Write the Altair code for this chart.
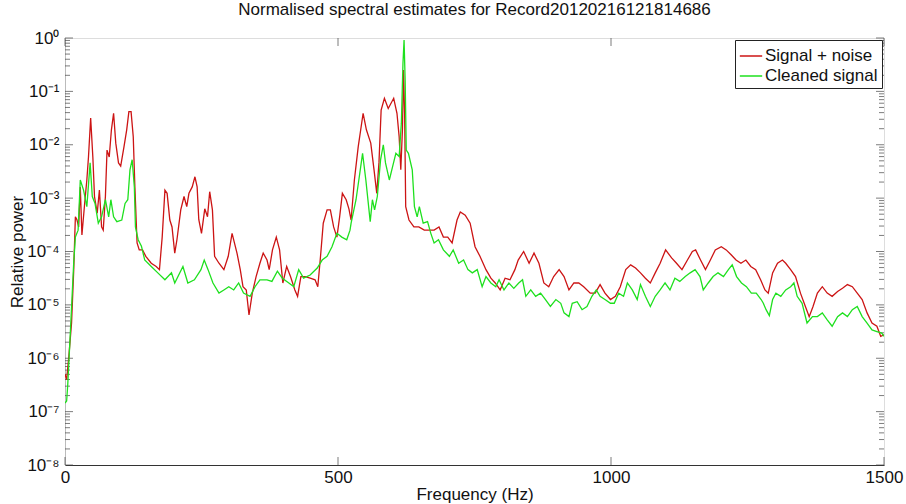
import altair as alt
import pandas as pd

FONT = "Liberation Sans"
TITLE = "Normalised spectral estimates for Record20120216121814686"
series_names = ["Signal + noise", "Cleaned signal"]
series_colors = ["#cc1414", "#1ee01e"]

# Signal + noise: frequency (Hz) and log10(relative power)
red_freq = [0, 3, 7, 12, 16, 19, 22, 25, 28, 31, 36, 40, 43, 47, 51, 54, 59, 63, 67, 70,
            74, 77, 81, 85, 89, 93, 98, 102, 108, 113, 117, 121, 125, 128, 132, 136, 142, 148, 158, 167,
            173, 178, 183, 187, 192, 196, 201, 205, 212, 218, 223, 227, 233, 238, 242, 245, 250, 256, 261, 265,
            270, 274, 282, 291, 299, 306, 315, 321, 326, 332, 337, 343, 350, 357, 363, 370, 374, 380, 387, 393,
            399, 406, 413, 421, 426, 432, 440, 449, 458, 463, 468, 473, 480, 486, 492, 498, 503, 508, 515, 520,
            524, 530, 537, 546, 552, 560, 566, 571, 575, 579, 585, 592, 602, 608, 612, 615, 618, 620, 622, 624,
            630, 639, 648, 658, 667, 676, 685, 693, 701, 709, 718, 724, 733, 742, 751, 760, 771, 780, 788, 797,
            806, 815, 824, 830, 840, 850, 859, 868, 877, 886, 895, 905, 914, 923, 932, 941, 950, 962, 971, 980,
            989, 999, 1008, 1017, 1027, 1036, 1045, 1054, 1063, 1072, 1081, 1090, 1100, 1111, 1120, 1130, 1140, 1149, 1155, 1164,
            1173, 1182, 1191, 1202, 1211, 1220, 1229, 1238, 1247, 1256, 1265, 1274, 1282, 1288, 1296, 1305, 1314, 1320, 1329, 1338,
            1347, 1356, 1363, 1370, 1378, 1387, 1396, 1405, 1415, 1424, 1433, 1442, 1451, 1460, 1469, 1478, 1487, 1494, 1500]
red_exp = [-6.3, -6.4, -5.97, -5.34, -4.34, -3.35, -3.41, -3.54, -2.79, -3.69, -3.1, -2.66, -2.23, -1.5, -2.23, -2.97, -3.28, -2.85, -3.54, -3.6,
           -2.97, -2.1, -2.23, -1.72, -1.41, -1.97, -2.34, -2.4, -2.04, -1.72, -1.38, -1.38, -1.85, -2.79, -3.84, -3.97, -3.97, -4.09, -4.22, -4.28,
           -4.34, -3.73, -2.85, -2.91, -3.41, -3.54, -4.03, -3.78, -3.22, -2.97, -3.16, -2.91, -2.79, -2.6, -2.79, -3.4, -3.66, -3.2, -3.35, -2.88,
           -3.22, -4.09, -4.22, -4.34, -4.09, -3.66, -4.03, -4.34, -4.66, -4.72, -5.19, -4.78, -4.47, -4.22, -4.03, -4.16, -4.34, -3.97, -3.73, -3.97,
           -4.59, -4.28, -4.47, -4.72, -4.84, -4.47, -4.47, -4.5, -4.53, -4.66, -4.09, -3.47, -3.22, -3.22, -3.54, -3.73, -3.35, -2.91, -3.03, -3.2,
           -3.41, -2.66, -2.04, -1.41, -1.72, -1.97, -2.47, -2.91, -2.34, -1.35, -1.13, -1.32, -1.13, -1.41, -1.85, -2.47, -1.72, -0.6, -1.41, -3.16,
           -3.41, -3.54, -3.54, -3.6, -3.6, -3.6, -3.54, -3.73, -3.73, -3.84, -3.41, -3.26, -3.32, -3.47, -3.91, -4.09, -4.34, -4.5, -4.59, -4.72,
           -4.5, -4.53, -4.34, -4.16, -4.0, -4.22, -4.03, -4.22, -4.59, -4.66, -4.47, -4.34, -4.47, -4.72, -4.59, -4.59, -4.66, -4.78, -4.78, -4.62,
           -4.78, -4.9, -4.84, -4.66, -4.34, -4.25, -4.31, -4.4, -4.5, -4.59, -4.4, -4.22, -3.97, -4.12, -4.22, -4.34, -4.16, -4.0, -3.97, -4.16,
           -4.34, -4.16, -3.97, -3.91, -3.97, -4.06, -4.16, -4.22, -4.16, -4.28, -4.34, -4.53, -4.72, -4.78, -4.4, -4.22, -4.16, -4.22, -4.34, -4.47,
           -4.78, -5.03, -5.22, -5.03, -4.78, -4.66, -4.78, -4.84, -4.75, -4.69, -4.62, -4.66, -4.78, -4.9, -5.15, -5.34, -5.4, -5.59, -5.56]

# Cleaned signal
green_freq = [0, 3, 5, 10, 16, 19, 24, 28, 34, 40, 46, 50, 55, 61, 67, 74, 80, 84, 89, 95,
              104, 110, 115, 119, 123, 127, 129, 134, 140, 146, 158, 170, 183, 195, 201, 216, 225, 237, 249, 255,
              262, 271, 282, 291, 300, 309, 318, 327, 339, 348, 357, 370, 379, 389, 398, 410, 419, 428, 437, 449,
              462, 471, 480, 489, 498, 507, 516, 522, 524, 533, 539, 545, 551, 559, 563, 567, 572, 578, 583, 587,
              594, 600, 606, 612, 616, 619, 621, 623, 625, 629, 636, 640, 645, 649, 656, 664, 670, 676, 684, 693,
              704, 711, 721, 730, 738, 746, 755, 764, 771, 780, 789, 795, 804, 813, 822, 831, 838, 844, 853, 862,
              871, 880, 889, 899, 908, 914, 923, 929, 938, 947, 956, 965, 973, 980, 989, 999, 1006, 1014, 1023, 1030,
              1039, 1048, 1054, 1063, 1072, 1081, 1090, 1099, 1108, 1117, 1126, 1136, 1145, 1154, 1163, 1169, 1178, 1187, 1196, 1206,
              1215, 1222, 1230, 1239, 1248, 1257, 1266, 1275, 1279, 1284, 1290, 1296, 1302, 1311, 1320, 1329, 1335, 1341, 1350, 1359,
              1369, 1378, 1387, 1396, 1405, 1415, 1424, 1433, 1442, 1451, 1460, 1469, 1478, 1487, 1496, 1500]
green_exp = [-6.84, -6.8, -6.5, -5.47, -4.2, -3.73, -3.6, -2.66, -2.85, -3.16, -2.34, -2.97, -3.1, -3.47, -3.35, -3.03, -3.35, -3.03, -3.35, -3.44,
             -3.41, -3.1, -3.03, -2.47, -2.28, -2.79, -3.54, -3.78, -3.9, -4.16, -4.28, -4.4, -4.53, -4.4, -4.59, -4.28, -4.59, -4.53, -4.34, -4.16,
             -4.34, -4.59, -4.78, -4.72, -4.66, -4.72, -4.59, -4.78, -4.84, -4.66, -4.53, -4.53, -4.56, -4.37, -4.5, -4.59, -4.66, -4.34, -4.5, -4.44,
             -4.31, -4.16, -4.09, -3.91, -3.66, -3.73, -3.78, -3.6, -3.47, -3.03, -2.6, -2.16, -2.66, -3.44, -3.03, -3.22, -2.97, -2.28, -2.0, -2.34,
             -2.66, -2.41, -2.16, -2.22, -1.6, -0.47, -0.04, -0.79, -2.1, -2.16, -2.47, -3.16, -3.35, -3.16, -3.47, -3.44, -3.66, -3.84, -3.78, -3.97,
             -4.09, -3.97, -4.22, -4.16, -4.34, -4.4, -4.34, -4.66, -4.47, -4.59, -4.66, -4.53, -4.72, -4.59, -4.69, -4.59, -4.53, -4.84, -4.72, -4.84,
             -4.78, -4.9, -5.03, -4.9, -4.97, -5.15, -5.22, -4.97, -4.94, -5.09, -5.03, -4.84, -4.72, -4.84, -4.9, -4.97, -4.97, -4.78, -4.84, -4.59,
             -4.72, -4.9, -4.62, -4.84, -5.03, -4.84, -4.72, -4.59, -4.72, -4.5, -4.56, -4.47, -4.4, -4.34, -4.47, -4.72, -4.59, -4.47, -4.4, -4.47,
             -4.34, -4.25, -4.47, -4.59, -4.66, -4.78, -4.78, -4.9, -4.97, -5.09, -5.2, -4.9, -4.78, -4.84, -4.72, -4.66, -4.59, -4.84, -4.97, -5.34,
             -5.22, -5.22, -5.15, -5.28, -5.4, -5.22, -5.15, -5.22, -5.09, -5.03, -5.22, -5.34, -5.47, -5.5, -5.53, -5.59]

x_tick_values = [0, 500, 1000, 1500]
y_tick_values = [1, 1e-1, 1e-2, 1e-3, 1e-4, 1e-5, 1e-6, 1e-7, 1e-8]
y_tick_labels = ["10⁰", "10⁻¹", "10⁻²", "10⁻³", "10⁻⁴", "10⁻⁵", "10⁻⁶", "10⁻⁷", "10⁻⁸"]
minor_multipliers = [2, 3, 4, 5, 6, 7, 8, 9]
minor_y = [m * d for d in y_tick_values[1:] for m in minor_multipliers]

W, H = 819, 427

red_df = pd.DataFrame({"freq": red_freq, "power": [10 ** e for e in red_exp], "series": series_names[0]})
green_df = pd.DataFrame({"freq": green_freq, "power": [10 ** e for e in green_exp], "series": series_names[1]})

expr = "''"
for v, lab in zip(reversed(y_tick_values), reversed(y_tick_labels)):
    expr = f"datum.value > {v * 0.5} ? '{lab}' : ({expr})"

xscale = alt.Scale(domain=[0, 1500], nice=False, zero=False)
yscale = alt.Scale(type="log", domain=[1e-8, 1], nice=False)

xaxis = alt.Axis(values=x_tick_values, ticks=False, format="d", labelPadding=4, labelFontSize=17,
                 labelFont=FONT, labelColor="#111", title="Frequency (Hz)", titleFontSize=17,
                 titleFont=FONT, titleFontWeight="normal", titleColor="#111", titlePadding=1,
                 domainColor="#333", grid=False, labelFlush=False)
yaxis = alt.Axis(values=y_tick_values, ticks=False, labelExpr=expr, labelPadding=6, labelFontSize=17,
                 labelFont=FONT, labelColor="#111", title="Relative power", titleFontSize=17, titleFont=FONT,
                 titleFontWeight="normal", titleColor="#111", titleX=-39, titleY=H / 2,
                 domainColor="#bbbbbb", grid=False, labelFlush=False)

color = alt.Color("series:N",
                  scale=alt.Scale(domain=series_names, range=series_colors),
                  legend=alt.Legend(title=None, orient="top-right", offset=2, strokeColor="#222",
                                    fillColor="white", padding=4, symbolType="stroke", symbolSize=500,
                                    symbolStrokeWidth=1.5, labelFontSize=17, labelFont=FONT,
                                    labelColor="#111", rowPadding=0, labelOffset=2))

red = alt.Chart(red_df).mark_line(strokeWidth=1.3, clip=True).encode(
    x=alt.X("freq:Q", scale=xscale, axis=xaxis),
    y=alt.Y("power:Q", scale=yscale, axis=yaxis),
    color=color)
green = alt.Chart(green_df).mark_line(strokeWidth=1.3, clip=True).encode(
    x=alt.X("freq:Q", scale=xscale, axis=xaxis),
    y=alt.Y("power:Q", scale=yscale, axis=yaxis),
    color=color)

major_df = pd.DataFrame({"v": y_tick_values})
minor_df = pd.DataFrame({"v": minor_y})
xt_df = pd.DataFrame({"f": x_tick_values})
TC = "#444"

def yticks(df, xpos, size):
    return alt.Chart(df).mark_tick(orient="horizontal", size=size, thickness=1, color=TC).encode(
        y=alt.Y("v:Q", scale=yscale, axis=yaxis), x=alt.value(xpos))

def xticks(ypos):
    return alt.Chart(xt_df).mark_tick(orient="vertical", size=8, thickness=1, color=TC).encode(
        x=alt.X("f:Q", scale=xscale, axis=xaxis), y=alt.value(ypos))

chart = alt.layer(
    yticks(major_df, 4, 8), yticks(minor_df, 2.5, 5),
    yticks(major_df, W - 4, 8), yticks(minor_df, W - 2.5, 5),
    xticks(H - 4), xticks(4),
    red, green,
).properties(
    width=W, height=H,
    title=alt.TitleParams(TITLE, font=FONT, fontSize=17, fontWeight="normal", color="#111", offset=10),
    autosize=alt.AutoSizeParams(type="none"),
    padding={"left": 65, "top": 38, "right": 22, "bottom": 39},
).configure_view(stroke="#bbbbbb", strokeWidth=1).configure(background="white")

chart.save("out.html", embed_options={"renderer": "svg", "actions": False})
